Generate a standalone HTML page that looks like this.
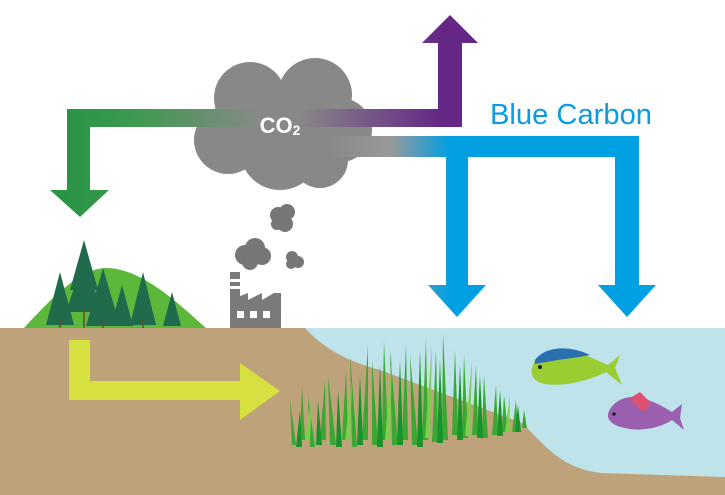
<!DOCTYPE html>
<html><head><meta charset="utf-8"><style>
html,body{margin:0;padding:0;background:#fff;width:725px;height:495px;overflow:hidden}
svg{display:block}
</style></head><body>
<svg width="725" height="495" viewBox="0 0 725 495" xmlns="http://www.w3.org/2000/svg">
<defs>
<linearGradient id="gG" x1="67" y1="0" x2="260" y2="0" gradientUnits="userSpaceOnUse">
<stop offset="0" stop-color="#2a9445"/><stop offset="0.35" stop-color="#3d9a50"/><stop offset="1" stop-color="#888"/></linearGradient>
<linearGradient id="gP" x1="300" y1="0" x2="440" y2="0" gradientUnits="userSpaceOnUse">
<stop offset="0" stop-color="#888"/><stop offset="1" stop-color="#652786"/></linearGradient>
<linearGradient id="gB" x1="330" y1="0" x2="450" y2="0" gradientUnits="userSpaceOnUse">
<stop offset="0" stop-color="#888"/><stop offset="0.5" stop-color="#999"/><stop offset="1" stop-color="#00a0e2"/></linearGradient>
</defs>
<rect x="0" y="328" width="725" height="167" fill="#bea27a"/>
<path d="M305 328 L725 328 L725 477 L601 473 C560 468 545 445 522 423 L380 370 C350 362 325 350 305 328 Z" fill="#bee3ea"/>
<path d="M24 328 C50 300 80 268 106 268 C140 268 175 300 206 328 Z" fill="#5cb83a"/>
<g fill="#1f6b4c">
<polygon points="84,240 70,290 98,290"/><polygon points="84,258 66,312 102,312"/>
<polygon points="60,272 46,325 74,325"/>
<polygon points="103,268 86,326 120,326"/>
<polygon points="143,272 130,325 156,325"/>
<polygon points="172,292 163,326 181,326"/>
<polygon points="122,285 111,326 133,326"/>
</g>
<g stroke="#6b4a2a" stroke-width="1.5"><line x1="84" y1="310" x2="84" y2="328"/><line x1="60" y1="320" x2="60" y2="328"/><line x1="143" y1="320" x2="143" y2="328"/><line x1="103" y1="322" x2="103" y2="328"/></g>
<rect x="230" y="272" width="10" height="56" fill="#7a7a7a"/>
<rect x="230" y="279" width="10" height="3" fill="#fff"/><rect x="230" y="286" width="10" height="3" fill="#fff"/>
<polygon points="230,300 248,293 248,300 262,293 262,300 274,293 281,293 281,328 230,328" fill="#7a7a7a"/>
<rect x="237" y="311" width="7" height="7" fill="#fff"/><rect x="250" y="311" width="7" height="7" fill="#fff"/><rect x="263" y="311" width="7" height="7" fill="#fff"/>
<g fill="#777">
<circle cx="245" cy="255" r="10"/><circle cx="255" cy="248" r="10"/><circle cx="262" cy="256" r="9"/><circle cx="250" cy="262" r="8"/>
<circle cx="278" cy="215" r="8"/><circle cx="287" cy="212" r="8"/><circle cx="285" cy="224" r="8"/><circle cx="277" cy="224" r="6"/>
<circle cx="292" cy="257" r="6"/><circle cx="298" cy="262" r="6"/><circle cx="291" cy="264" r="5"/>
</g>
<g fill="#888">
<circle cx="250" cy="98" r="36"/><circle cx="315" cy="95" r="37"/><circle cx="340" cy="130" r="32"/><circle cx="228" cy="140" r="34"/>
<circle cx="280" cy="150" r="40"/><circle cx="320" cy="160" r="28"/><circle cx="290" cy="115" r="35"/>
</g>
<path d="M260 109 L67 109 L67 190 L50 190 L80 217 L109 190 L90 190 L90 127 L260 127 Z" fill="url(#gG)"/>
<path d="M300 109 L438 109 L438 43 L422 43 L450 15 L478 43 L462 43 L462 127 L300 127 Z" fill="url(#gP)"/>
<path d="M320 136 L639 136 L639 285 L656 285 L627 317 L598 285 L615 285 L615 157 L468 157 L468 285 L486 285 L457 317 L428 285 L446 285 L446 157 L320 157 Z" fill="url(#gB)"/>
<text x="280" y="133" font-family="Liberation Sans, sans-serif" font-size="22" font-weight="bold" fill="#fff" text-anchor="middle">CO<tspan font-size="14" dy="2">2</tspan></text>
<text x="490" y="124" font-family="Liberation Sans Narrow, Liberation Sans, sans-serif" font-size="29" fill="#0a9be0" textLength="162" lengthAdjust="spacingAndGlyphs">Blue Carbon</text>
<path d="M69 340 L90 340 L90 381 L240 381 L240 363 L280 391 L240 420 L240 400 L69 400 Z" fill="#d6e040"/>
<g fill="#3aa832">
<polygon points="292,445 290,400 296,445"/><polygon points="300,440 302,385 305,440"/><polygon points="310,447 308,395 315,447"/>
<polygon points="320,440 325,380 326,440"/><polygon points="330,445 328,375 336,445"/><polygon points="342,440 346,370 348,440"/>
<polygon points="352,447 350,355 357,447"/><polygon points="362,440 368,345 368,440"/><polygon points="372,445 372,360 378,445"/>
<polygon points="382,440 384,340 388,440"/><polygon points="392,445 390,350 398,445"/><polygon points="402,440 406,345 408,440"/>
<polygon points="412,445 410,355 418,445"/><polygon points="422,440 426,340 428,440"/><polygon points="432,442 436,350 438,442"/>
<polygon points="442,440 443,333 448,440"/><polygon points="452,435 455,350 458,435"/><polygon points="462,438 464,355 468,438"/>
<polygon points="472,435 476,365 478,435"/><polygon points="482,438 484,375 488,438"/><polygon points="492,435 496,385 498,435"/>
<polygon points="502,432 504,395 508,432"/><polygon points="512,432 516,400 518,432"/><polygon points="522,428 524,410 527,428"/>
</g>
<g fill="#19922b">
<polygon points="296,447 300,410 302,447"/><polygon points="316,445 318,400 322,445"/><polygon points="336,447 338,390 342,447"/>
<polygon points="357,445 360,375 363,445"/><polygon points="377,447 380,365 383,447"/><polygon points="397,445 400,360 403,445"/>
<polygon points="417,447 420,350 423,447"/><polygon points="437,443 440,360 443,443"/><polygon points="457,440 460,365 463,440"/>
<polygon points="477,438 480,375 483,438"/><polygon points="497,436 500,390 503,436"/><polygon points="515,432 518,405 521,432"/>
</g>
<g fill="#7ccf4a">
<polygon points="305,440 312,395 310,440"/><polygon points="345,440 352,380 350,440"/><polygon points="385,440 392,355 390,440"/>
<polygon points="425,438 432,345 430,438"/><polygon points="465,436 472,360 470,436"/><polygon points="505,432 510,395 509,432"/>
</g>
<path d="M532 368 C535 352 555 346 575 352 C590 356 600 362 608 365 L620 355 L615 368 L622 385 L606 372 C590 380 565 387 545 384 C535 382 530 376 532 368 Z" fill="#9acd32"/>
<path d="M535 360 C545 346 570 345 590 355 C575 358 555 360 535 364 Z" fill="#2a6fb0"/>
<circle cx="540" cy="367" r="2" fill="#222"/>
<path d="M608 414 C612 400 630 392 648 400 C660 404 668 410 672 412 L682 404 L680 418 L684 430 L672 420 C660 428 640 432 625 428 C614 426 607 421 608 414 Z" fill="#9b5fb0"/>
<path d="M630 398 L640 392 L650 402 L645 412 L636 406 Z" fill="#e05070"/>
<circle cx="614" cy="414" r="1.8" fill="#222"/>
</svg>
</body></html>
